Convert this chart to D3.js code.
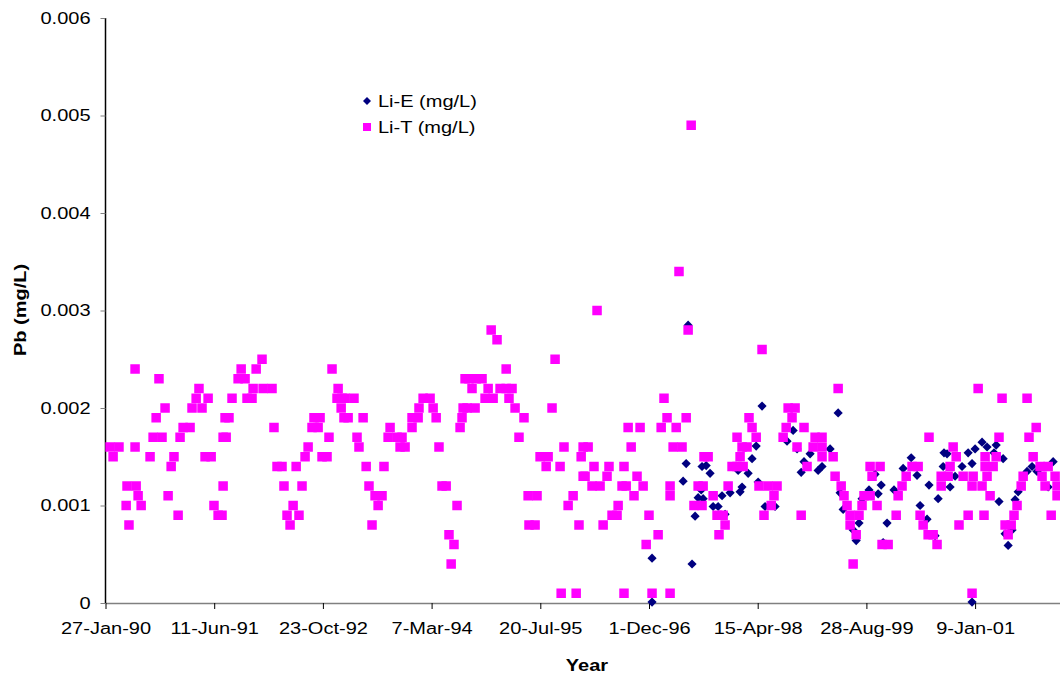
<!DOCTYPE html>
<html>
<head>
<meta charset="utf-8">
<script src="https://cdn.jsdelivr.net/npm/d3@7"></script>
<style>
  html, body { margin: 0; padding: 0; background: #fff; }
  svg { display: block; }
  text { font-family: "Liberation Sans", Arial, sans-serif; fill: #000; }
</style>
</head>
<body>
<svg id="chart" width="1060" height="681"></svg>
<script>
// Dates are Excel date serials (days since 30-Dec-1899), as on the original worksheet axis.
const xTickStart = 32900;   // 27-Jan-90
const xTickStep = 500;      // days between axis labels
const yTicks = [0, 0.001, 0.002, 0.003, 0.004, 0.005, 0.006];
const seriesNames = ["Li-E (mg/L)", "Li-T (mg/L)"];

const liTDates = [
  32921,32962,33036,32935,33036,33146,33330,33317,33372,33174,33298,33344,33133,33450,33257,33289,
  33119,33160,33243,33441,33105,33215,33358,33386,33202,32999,33041,33188,33050,33441,32995,33064,
  33399,33234,33418,33436,33008,
  33620,33524,33593,33942,33510,33542,33579,33625,33666,33970,33482,33551,33574,33965,33988,33468,
  33984,33997,33675,33859,33887,33850,33878,33455,33928,33832,33818,33896,33919,33689,33712,33777,
  33721,33804,33763,33735,33790,33749,
  34002,34043,34016,34085,34209,34057,34200,34241,34264,34066,34255,34278,34099,34181,34112,34140,
  34172,34154,34126,34361,34393,34342,34407,34310,34338,34421,34310,34434,34448,34467,34517,34480,
  34503,34490,34554,34545,34540,34531,
  34674,34701,34968,34743,34572,34605,34632,34586,34660,34715,34743,34770,34646,34683,34756,34563,
  34600,34784,34954,34825,34802,35009,35097,34899,34936,35088,34927,34991,35097,34844,34885,35051,
  35028,34848,34876,35078,34996,35065,
  35538,35161,35580,35594,35469,35483,35571,35304,35359,35456,35525,35120,35318,35511,35552,35653,
  35147,35216,35285,35106,35207,35345,35138,35175,35276,35295,35373,35497,35626,35649,35331,35497,
  35607,35644,35258,35230,35253,35400,35189,35442,35387,35285,35414,35497,
  35920,36040,36072,35860,36058,35874,36031,36113,35805,35893,36017,36164,36196,35828,35851,36081,
  36155,36196,35672,35819,36196,35782,35805,35833,36127,35764,35906,35948,35989,35695,35975,35962,
  35713,35741,35929,36100,35750,35722,
  36270,36688,36247,36256,36284,36297,36311,36325,36366,36325,36353,36339,36417,36463,36426,36389,
  36417,36380,36449,36472,36500,36537,36546,36564,36583,36610,36638,36647,36661,36684,36707,36725,
  36744,36744,
  36914,37024,37139,37181,37010,37148,36799,36813,36946,36997,37167,36785,36946,36983,37199,37236,
  36776,36845,36891,36955,37121,37208,37268,36886,36932,37112,37222,37277,36969,37277,37093,36868,
  36941,37079,37250,36826,37038,37066,37052,36886
];
const liTValues = [
  0.0016,0.0016,0.0016,0.0015,0.0024,0.0023,0.0022,0.0021,0.0021,0.0020,0.0020,0.0020,0.0019,0.0019,0.0018,0.0018,
  0.0017,0.0017,0.0017,0.0017,0.0015,0.0015,0.0015,0.0015,0.0014,0.0012,0.0012,0.0011,0.0011,0.0012,0.0010,0.0010,
  0.0010,0.0009,0.0009,0.0009,0.0008,
  0.0025,0.0024,0.0024,0.0024,0.0023,0.0023,0.0022,0.0022,0.0022,0.0022,0.0021,0.0021,0.0021,0.0021,0.0021,0.0019,
  0.0020,0.0019,0.0018,0.0019,0.0019,0.0018,0.0018,0.0017,0.0017,0.0016,0.0015,0.0015,0.0015,0.0014,0.0014,0.0014,
  0.0012,0.0012,0.0010,0.0009,0.0009,0.0008,
  0.0021,0.0021,0.0019,0.0019,0.0018,0.0017,0.0017,0.0017,0.0017,0.0016,0.0016,0.0016,0.0014,0.0014,0.0012,0.0011,
  0.0011,0.0010,0.0008,0.0021,0.0021,0.0020,0.0020,0.0019,0.0019,0.0019,0.0018,0.0016,0.0012,0.0012,0.0010,0.0007,
  0.0006,0.0004,0.0023,0.0020,0.0019,0.0018,
  0.0028,0.0027,0.0025,0.0024,0.0023,0.0023,0.0023,0.0022,0.0022,0.0022,0.0022,0.0022,0.0021,0.0021,0.0021,0.0020,
  0.0020,0.0020,0.0020,0.0019,0.0017,0.0016,0.0016,0.0015,0.0015,0.0015,0.0014,0.0014,0.0013,0.0011,0.0011,0.0011,
  0.0010,0.0008,0.0008,0.0008,0.0001,0.0001,
  0.0034,0.0030,0.0028,0.0049,0.0021,0.0019,0.0019,0.0018,0.0018,0.0018,0.0018,0.0016,0.0016,0.0016,0.0016,0.0015,
  0.0014,0.0014,0.0014,0.0013,0.0013,0.0013,0.0012,0.0012,0.0012,0.0012,0.0012,0.0012,0.0012,0.0012,0.0011,0.0011,
  0.0010,0.0010,0.0010,0.0009,0.0009,0.0009,0.0008,0.0007,0.0006,0.0001,0.0001,0.0001,
  0.0026,0.0020,0.0020,0.0019,0.0019,0.0018,0.0018,0.0018,0.0017,0.0017,0.0017,0.0017,0.0017,0.0016,0.0016,0.0016,
  0.0016,0.0016,0.0015,0.0015,0.0015,0.0014,0.0014,0.0014,0.0014,0.0012,0.0012,0.0012,0.0012,0.0011,0.0011,0.0010,
  0.0009,0.0009,0.0009,0.0009,0.0008,0.0007,
  0.0022,0.0017,0.0015,0.0013,0.0012,0.0011,0.0010,0.0009,0.0009,0.0008,0.0007,0.0004,0.0014,0.0014,0.0013,0.0011,
  0.0011,0.0010,0.0010,0.0006,0.0006,0.0009,0.0011,0.0012,0.0013,0.0014,0.0014,0.0009,0.0008,0.0007,0.0007,0.0006,
  0.0013,0.0012,
  0.0022,0.0021,0.0021,0.0018,0.0017,0.0017,0.0016,0.0015,0.0015,0.0015,0.0015,0.0014,0.0014,0.0014,0.0014,0.0014,
  0.0013,0.0013,0.0013,0.0013,0.0013,0.0013,0.0013,0.0012,0.0012,0.0012,0.0012,0.0012,0.0011,0.0011,0.0010,0.0009,
  0.0009,0.0009,0.0009,0.0008,0.0008,0.0008,0.0007,0.0001
];

const liEDates = [
  35414,35414,35557,35571,35580,35598,35612,35626,35644,35640,35663,35681,35649,35695,35718,35736,
  35750,35773,35810,35819,35828,35856,35874,35893,35902,35920,35934,35980,36035,36063,36081,36100,
  36113,36141,36178,36196,36233,36270,36279,36293,36339,36353,36366,36380,36412,36440,36454,36468,
  36477,36495,36527,36569,36606,36633,36647,36679,36688,36716,36730,36753,36757,36771,36785,36808,
  36840,36868,36886,36900,36932,36955,36987,36997,37010,37029,37038,37052,37070,37084,37098,37139,
  37162,37185,37236,37259,36886
];
const liEValues = [
  0.00046,0.00001,0.00125,0.00143,0.00285,0.00040,0.00089,0.00108,0.00140,0.00116,0.00141,0.00133,0.00107,0.00099,0.00099,0.00110,
  0.00091,0.00113,0.00136,0.00114,0.00119,0.00133,0.00148,0.00161,0.00124,0.00202,0.00099,0.00099,0.00166,0.00177,0.00158,0.00134,
  0.00145,0.00153,0.00136,0.00140,0.00158,0.00195,0.00113,0.00096,0.00075,0.00064,0.00082,0.00107,0.00116,0.00132,0.00112,0.00121,
  0.00062,0.00082,0.00116,0.00138,0.00149,0.00131,0.00100,0.00086,0.00121,0.00069,0.00107,0.00140,0.00154,0.00153,0.00119,0.00130,
  0.00140,0.00154,0.00143,0.00158,0.00165,0.00160,0.00154,0.00162,0.00104,0.00148,0.00071,0.00059,0.00075,0.00106,0.00114,0.00135,
  0.00140,0.00135,0.00119,0.00145,0.00001
];

// ---- drawing ----
const svg = d3.select("#chart");
const plotLeft = 105.5, plotTop = 18, plotBottom = 603;
const pxPerStep = 108.7;
const xMax = xTickStart + 4400;
const x = d3.scaleLinear()
  .domain([xTickStart, xMax])
  .range([plotLeft, plotLeft + pxPerStep * (xMax - xTickStart) / xTickStep]);
const y = d3.scaleLinear().domain([0, 0.006]).range([plotBottom, plotTop]);

const excelEpoch = Date.UTC(1899, 11, 30);
const toDate = s => new Date(excelEpoch + s * 86400000);
const fmtDate = d3.utcFormat("%-d-%b-%y");
const xTicks = d3.range(xTickStart, xMax, xTickStep);

const STRETCH = 1.25;
function stretch(sel) {
  sel.each(function () {
    const w = this.getComputedTextLength();
    if (w > 0) {
      this.setAttribute("textLength", w * STRETCH);
      this.setAttribute("lengthAdjust", "spacingAndGlyphs");
    }
  });
}

// X axis
const xAxis = svg.append("g")
  .attr("transform", `translate(0,${plotBottom})`)
  .call(d3.axisBottom(x).tickValues(xTicks).tickFormat(s => fmtDate(toDate(s))).tickSize(6).tickPadding(14));
xAxis.select(".domain").attr("stroke", "#808080").attr("stroke-width", 1.5)
  .attr("d", `M${plotLeft},0.5H1060`);
xAxis.selectAll(".tick line").attr("stroke", "#000").attr("stroke-width", 1);
xAxis.selectAll(".tick text").attr("font-size", 16).attr("font-family", "Liberation Sans, Arial, sans-serif").attr("fill", "#000");

// Y axis
const yAxis = svg.append("g")
  .attr("transform", `translate(${plotLeft},0)`)
  .call(d3.axisLeft(y).tickValues(yTicks).tickFormat(d => d === 0 ? "0" : d3.format(".3f")(d)).tickSize(5).tickPadding(10));
yAxis.select(".domain").attr("stroke", "#000").attr("stroke-width", 1.5)
  .attr("d", `M0,${plotTop}V${plotBottom}`);
yAxis.selectAll(".tick line").attr("stroke", "#808080").attr("stroke-width", 1);
yAxis.selectAll(".tick text").attr("font-size", 16).attr("font-family", "Liberation Sans, Arial, sans-serif").attr("fill", "#000");

// series
const liE = liEDates.map((d, i) => ({ d, v: liEValues[i] }));
const liT = liTDates.map((d, i) => ({ d, v: liTValues[i] }));

const diamond = r => `M0,${-r}L${r},0L0,${r}L${-r},0Z`;
const sq = 9.5;

svg.append("g").selectAll("path").data(liE).join("path")
  .attr("transform", p => `translate(${x(p.d)},${y(p.v)})`)
  .attr("d", diamond(4.6))
  .attr("fill", "#000080");

svg.append("g").selectAll("rect").data(liT).join("rect")
  .attr("x", p => x(p.d) - sq / 2)
  .attr("y", p => y(p.v) - sq / 2)
  .attr("width", sq).attr("height", sq)
  .attr("fill", "#FF00FF");

// Legend
const lg = svg.append("g");
lg.append("path").attr("transform", "translate(367,101)").attr("d", diamond(4)).attr("fill", "#000080");
lg.append("rect").attr("x", 367 - 4).attr("y", 127 - 4).attr("width", 8).attr("height", 8).attr("fill", "#FF00FF");
lg.append("text").attr("x", 378).attr("y", 106.5).attr("font-size", 16).text(seriesNames[0]);
lg.append("text").attr("x", 378).attr("y", 133).attr("font-size", 16).text(seriesNames[1]);

// Axis titles
svg.append("text").attr("x", 587).attr("y", 671).attr("text-anchor", "middle")
  .attr("font-size", 16).attr("font-weight", "bold").text("Year");
svg.append("text").attr("transform", "translate(26,310) rotate(-90)").attr("text-anchor", "middle")
  .attr("font-size", 16).attr("font-weight", "bold").text("Pb (mg/L)");

stretch(svg.selectAll("text"));
</script>
</body>
</html>
